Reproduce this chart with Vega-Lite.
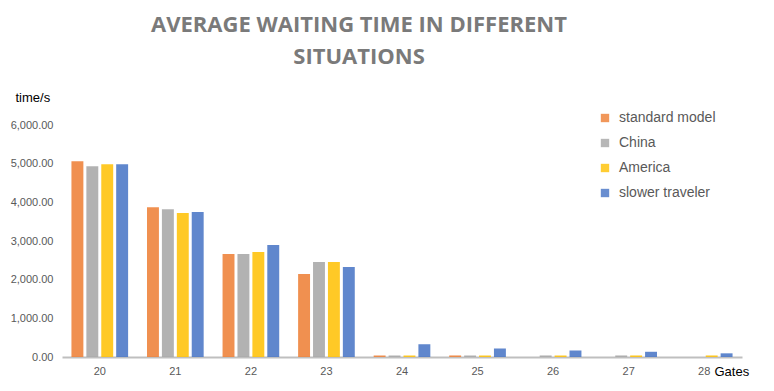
{
  "$schema": "https://vega.github.io/schema/vega-lite/v6.json",
  "width": 680,
  "height": 232,
  "autosize": {"type": "none"},
  "padding": {"left": 62, "top": 125, "right": 32, "bottom": 34},
  "background": "white",
  "config": {"view": {"stroke": null}, "font": "Liberation Sans"},
  "title": {
    "text": ["AVERAGE WAITING TIME IN DIFFERENT", "SITUATIONS"],
    "font": "Open Sans",
    "fontSize": 22,
    "fontWeight": "bold",
    "color": "#7a7a7a",
    "lineHeight": 32,
    "anchor": "middle",
    "dx": -43,
    "offset": 22
  },
  "data": {
    "values": [
      {"gate": "20", "series": "standard model", "value": 5065},
      {"gate": "20", "series": "China", "value": 4935},
      {"gate": "20", "series": "America", "value": 4987},
      {"gate": "20", "series": "slower traveler", "value": 4987},
      {"gate": "21", "series": "standard model", "value": 3876},
      {"gate": "21", "series": "China", "value": 3824},
      {"gate": "21", "series": "America", "value": 3721},
      {"gate": "21", "series": "slower traveler", "value": 3747},
      {"gate": "22", "series": "standard model", "value": 2661},
      {"gate": "22", "series": "China", "value": 2661},
      {"gate": "22", "series": "America", "value": 2713},
      {"gate": "22", "series": "slower traveler", "value": 2894},
      {"gate": "23", "series": "standard model", "value": 2145},
      {"gate": "23", "series": "China", "value": 2455},
      {"gate": "23", "series": "America", "value": 2455},
      {"gate": "23", "series": "slower traveler", "value": 2326},
      {"gate": "24", "series": "standard model", "value": 40},
      {"gate": "24", "series": "China", "value": 40},
      {"gate": "24", "series": "America", "value": 40},
      {"gate": "24", "series": "slower traveler", "value": 330},
      {"gate": "25", "series": "standard model", "value": 40},
      {"gate": "25", "series": "China", "value": 40},
      {"gate": "25", "series": "America", "value": 40},
      {"gate": "25", "series": "slower traveler", "value": 220},
      {"gate": "26", "series": "standard model", "value": 0},
      {"gate": "26", "series": "China", "value": 40},
      {"gate": "26", "series": "America", "value": 40},
      {"gate": "26", "series": "slower traveler", "value": 165},
      {"gate": "27", "series": "standard model", "value": 0},
      {"gate": "27", "series": "China", "value": 40},
      {"gate": "27", "series": "America", "value": 40},
      {"gate": "27", "series": "slower traveler", "value": 135},
      {"gate": "28", "series": "standard model", "value": 0},
      {"gate": "28", "series": "China", "value": 0},
      {"gate": "28", "series": "America", "value": 40},
      {"gate": "28", "series": "slower traveler", "value": 95}
    ]
  },
  "mark": {"type": "bar", "opacity": 0.85},
  "encoding": {
    "x": {
      "field": "gate",
      "type": "nominal",
      "sort": null,
      "scale": {"paddingInner": 0.25, "paddingOuter": 0.125},
      "axis": {
        "labelAngle": 0,
        "labelColor": "#595959",
        "labelFontSize": 11,
        "labelPadding": 8,
        "ticks": false,
        "domainColor": "#BFBFBF",
        "domainWidth": 2,
        "title": "Gates",
        "titleFontSize": 13,
        "titleFontWeight": "normal",
        "titleColor": "#000000",
        "titleAlign": "left",
        "titleBaseline": "middle",
        "titleX": 652,
        "titleY": 14
      }
    },
    "xOffset": {
      "field": "series",
      "type": "nominal",
      "sort": ["standard model", "China", "America", "slower traveler"],
      "scale": {"paddingInner": 0.2}
    },
    "y": {
      "field": "value",
      "type": "quantitative",
      "scale": {"domain": [0, 6000]},
      "axis": {
        "values": [0, 1000, 2000, 3000, 4000, 5000, 6000],
        "format": ",.2f",
        "grid": false,
        "domain": false,
        "ticks": false,
        "labelColor": "#595959",
        "labelFontSize": 11,
        "labelPadding": 9,
        "title": "time/s",
        "titleAngle": 0,
        "titleFontSize": 13,
        "titleFontWeight": "normal",
        "titleColor": "#000000",
        "titleAlign": "left",
        "titleBaseline": "middle",
        "titleX": -47,
        "titleY": -28
      }
    },
    "color": {
      "field": "series",
      "type": "nominal",
      "sort": ["standard model", "China", "America", "slower traveler"],
      "scale": {
        "domain": ["standard model", "China", "America", "slower traveler"],
        "range": ["#ED7D31", "#A5A5A5", "#FFC000", "#4472C4"]
      },
      "legend": {
        "orient": "none",
        "legendX": 536,
        "legendY": -14,
        "title": null,
        "symbolType": "square",
        "symbolSize": 70,
        "symbolOpacity": 0.8,
        "symbolStrokeWidth": 0,
        "labelFontSize": 14,
        "labelColor": "#595959",
        "labelOffset": 7,
        "rowPadding": 11
      }
    }
  }
}
